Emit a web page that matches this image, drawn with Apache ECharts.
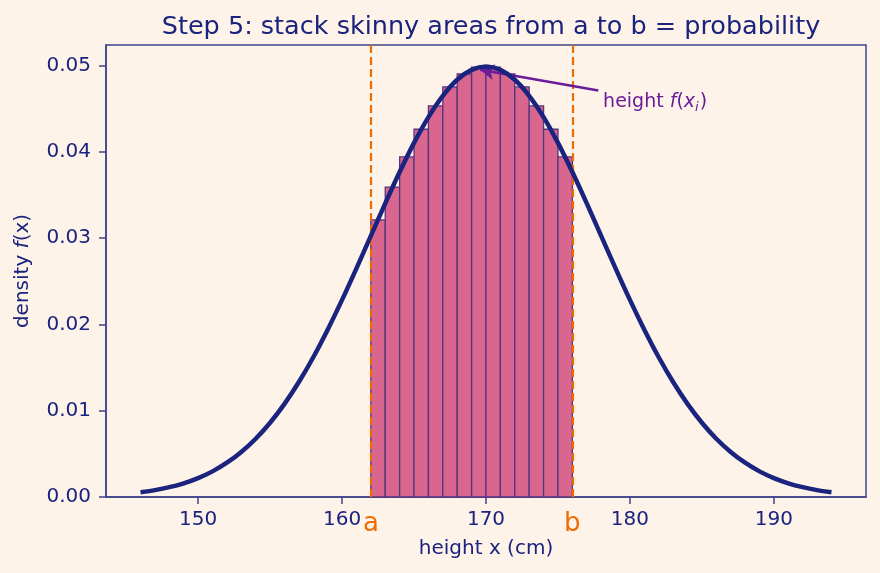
<!DOCTYPE html>
<html>
<head>
<meta charset="utf-8">
<script src="https://cdn.jsdelivr.net/npm/echarts@6/dist/echarts.min.js"></script>
<style>
  html, body { margin: 0; padding: 0; background: #fef3e8; }
  #chart { width: 880px; height: 573px; }
</style>
</head>
<body>
<div id="chart"></div>
<script>
// density curve, one point per cm
const curveX = [146, 147, 148, 149, 150, 151, 152, 153, 154, 155, 156, 157, 158, 159, 160, 161, 162,
  163, 164, 165, 166, 167, 168, 169, 170, 171, 172, 173, 174, 175, 176, 177, 178, 179, 180, 181, 182,
  183, 184, 185, 186, 187, 188, 189, 190, 191, 192, 193, 194];
const curveY = [0.00055, 0.0008, 0.00114, 0.00159, 0.00219, 0.00297, 0.00397, 0.00522, 0.00675,
  0.0086, 0.01079, 0.01332, 0.01619, 0.01938, 0.02283, 0.02649, 0.03025, 0.03401, 0.03764, 0.04102,
  0.04401, 0.04648, 0.04834, 0.04948, 0.04987, 0.04948, 0.04834, 0.04648, 0.04401, 0.04102, 0.03764,
  0.03401, 0.03025, 0.02649, 0.02283, 0.01938, 0.01619, 0.01332, 0.01079, 0.0086, 0.00675, 0.00522,
  0.00397, 0.00297, 0.00219, 0.00159, 0.00114, 0.0008, 0.00055];

// skinny bars from a to b, left edges and heights
const binLeft = [162, 163, 164, 165, 166, 167, 168, 169, 170, 171, 172, 173, 174, 175];
const binHeight = [0.0321, 0.0359, 0.0394, 0.0426, 0.0453, 0.0475, 0.049, 0.0498, 0.0498, 0.049,
  0.0475, 0.0453, 0.0426, 0.0394];
const binWidth = 1;

const aVal = 162, bVal = 176;
const xTicks = [150, 160, 170, 180, 190];
const yTicks = [0, 0.01, 0.02, 0.03, 0.04, 0.05];

const navy = "#1a237e", orange = "#ef6c00", purple = "#6a1b9a", frame = "#3c4488";
const font = "DejaVu Sans";

const chart = echarts.init(document.getElementById("chart"));

const option = {
  backgroundColor: "#fef3e8",
  animation: false,
  title: {
    text: "Step 5: stack skinny areas from a to b = probability",
    left: 486,
    textAlign: "center",
    top: 9,
    textStyle: { color: navy, fontFamily: font, fontSize: 25.5, fontWeight: "normal" }
  },
  grid: { left: 106, right: 14, top: 45, bottom: 76, show: true, borderColor: frame, borderWidth: 1.5, backgroundColor: "transparent" },
  xAxis: {
    type: "value",
    min: 143.6,
    max: 196.4,
    name: "height x (cm)",
    nameLocation: "middle",
    nameGap: 42,
    nameTextStyle: { color: navy, fontFamily: font, fontSize: 20 },
    axisLine: { show: true, onZero: false, lineStyle: { color: frame, width: 1.5 } },
    axisTick: { show: true, length: 7, customValues: xTicks, lineStyle: { color: frame, width: 1.5 } },
    axisLabel: { customValues: xTicks, color: navy, fontFamily: font, fontSize: 20, margin: 13 },
    splitLine: { show: false }
  },
  yAxis: {
    type: "value",
    min: 0,
    max: 0.05236,
    name: "{n|density }{i|f}{n|(x)}",
    nameLocation: "middle",
    nameGap: 73,
    nameRotate: 90,
    nameTextStyle: {
      color: navy, fontFamily: font, fontSize: 20,
      rich: {
        n: { color: navy, fontFamily: font, fontSize: 20 },
        i: { color: navy, fontFamily: font, fontSize: 20, fontStyle: "italic" }
      }
    },
    axisLine: { show: true, lineStyle: { color: frame, width: 1.5 } },
    axisTick: { show: true, length: 7, customValues: yTicks, lineStyle: { color: frame, width: 1.5 } },
    axisLabel: {
      customValues: yTicks, color: navy, fontFamily: font, fontSize: 20, margin: 15,
      formatter: v => v.toFixed(2)
    },
    splitLine: { show: false }
  },
  series: [
    {
      type: "custom",
      name: "bars",
      z: 2,
      encode: { x: 0, y: 1 },
      data: binLeft.map((x, i) => [x, binHeight[i]]),
      renderItem: function (params, api) {
        const x0 = api.value(0), h = api.value(1);
        const p0 = api.coord([x0, h]);
        const p1 = api.coord([x0 + binWidth, 0]);
        return {
          type: "rect",
          shape: { x: p0[0], y: p0[1], width: p1[0] - p0[0], height: p1[1] - p0[1] },
          style: { fill: "#d8668f", stroke: "#56357f", lineWidth: 1.3 }
        };
      }
    },
    {
      type: "line",
      name: "limits",
      z: 3,
      data: [],
      markLine: {
        silent: true,
        symbol: "none",
        lineStyle: { color: orange, width: 2.2, type: [8, 4] },
        label: { show: true, position: "start", distance: 14, color: orange, fontFamily: font, fontSize: 26 },
        data: [
          { xAxis: aVal, label: { formatter: "a" } },
          { xAxis: bVal, label: { formatter: "b" } }
        ]
      }
    },
    {
      type: "line",
      name: "density",
      z: 5,
      smooth: 0.3,
      showSymbol: false,
      lineStyle: { color: navy, width: 4.5 },
      data: curveX.map((x, i) => [x, curveY[i]])
    },
    {
      type: "line",
      name: "note",
      z: 6,
      data: [],
      markLine: {
        silent: true,
        symbol: ["none", "arrow"],
        symbolSize: [12, 14],
        lineStyle: { color: purple, width: 2.5, type: "solid" },
        label: { show: false },
        data: [[{ coord: [177.8, 0.0471] }, { coord: [169.6, 0.0495] }]]
      },
      markPoint: {
        silent: true,
        symbol: "circle",
        symbolSize: 1,
        itemStyle: { color: "transparent" },
        label: {
          show: true,
          position: "right",
          distance: 0,
          formatter: "{n|height }{i|f}{n|(}{i|x}{s|i}{n|)}",
          rich: {
            n: { color: purple, fontFamily: font, fontSize: 19 },
            i: { color: purple, fontFamily: font, fontSize: 19, fontStyle: "italic" },
            s: { color: purple, fontFamily: font, fontSize: 13, fontStyle: "italic", verticalAlign: "bottom", padding: [10, 1, 0, 0] }
          }
        },
        data: [{ coord: [178.1, 0.0457] }]
      }
    }
  ]
};

chart.setOption(option);
</script>
</body>
</html>
